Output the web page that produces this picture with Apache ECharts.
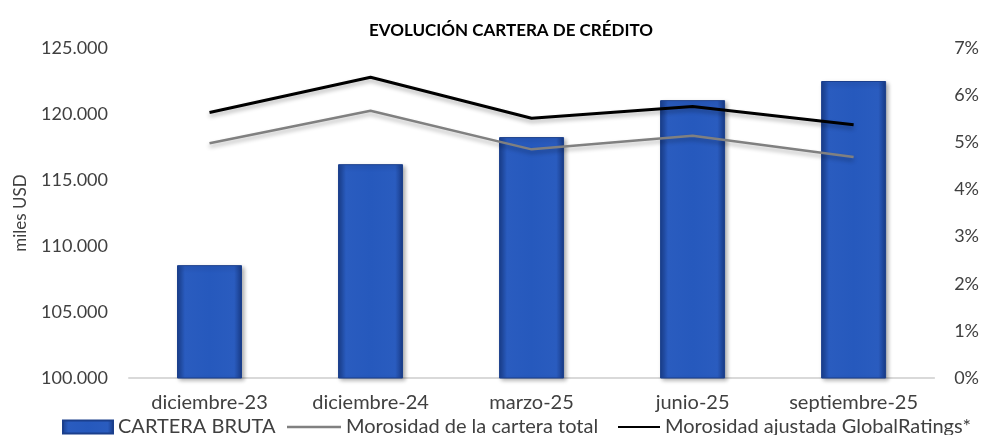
<!DOCTYPE html>
<html><head><meta charset="utf-8">
<script src="https://cdn.jsdelivr.net/npm/echarts@6/dist/echarts.min.js"></script>
<style>html,body{margin:0;padding:0;background:#fff}#c{width:982px;height:435px}</style>
</head><body><div id="c"></div>
<script>
const categories = ['diciembre-23','diciembre-24','marzo-25','junio-25','septiembre-25'];
const carteraBruta = [108550, 116200, 118250, 121050, 122500];
const morosidadTotal = [4.98, 5.67, 4.85, 5.14, 4.69];
const morosidadAjustada = [5.63, 6.38, 5.51, 5.76, 5.37];
const seriesNames = ['CARTERA BRUTA','Morosidad de la cartera total','Morosidad ajustada GlobalRatings*'];

const FONT = 'Lato';
const chart = echarts.init(document.getElementById('c'), null, {renderer:'canvas'});
const barColor = new echarts.graphic.LinearGradient(0,0,1,0,[
  {offset:0,color:'#1a3f8f'},{offset:0.12,color:'#2a5cbf'},{offset:0.5,color:'#2659bd'},{offset:0.88,color:'#2a5cbf'},{offset:1,color:'#183a85'}]);
const lineIcon = 'path://M0,0 L100,0 L100,4.5 L0,4.5 Z';
const legendText = {fontFamily:FONT,fontSize:20,color:'#404040'};
chart.setOption({
  animation:false,
  title:{text:'EVOLUCIÓN CARTERA DE CRÉDITO',left:364,top:17,
    textStyle:{fontFamily:FONT,fontSize:17,fontWeight:'bold',color:'#000'}},
  grid:{left:129,right:47,top:48,bottom:57},
  legend:[
    {top:412,left:57,itemWidth:50,itemHeight:13,textStyle:legendText,
     data:[{name:seriesNames[0],icon:'rect'}]},
    {top:412,left:282,itemWidth:54,itemHeight:13,textStyle:legendText,
     data:[{name:seriesNames[1],icon:lineIcon}]},
    {top:412,left:613,itemWidth:42,itemHeight:13,textStyle:legendText,
     data:[{name:seriesNames[2],icon:lineIcon}]}
  ],
  xAxis:{type:'category',data:categories,
    axisLine:{lineStyle:{color:'#d9d9d9',width:2}},axisTick:{show:false},
    axisLabel:{interval:0,fontFamily:FONT,fontSize:20,color:'#404040',margin:15}},
  yAxis:[
    {type:'value',min:100000,max:125000,interval:5000,name:'miles USD',nameLocation:'middle',nameGap:100,
     nameTextStyle:{fontFamily:FONT,fontSize:17,color:'#404040'},
     splitLine:{show:false},axisLine:{show:false},axisTick:{show:false},
     axisLabel:{fontFamily:FONT,fontSize:18,color:'#404040',margin:21,
       formatter:v=>(v/1000).toFixed(3)}},
    {type:'value',min:0,max:7,interval:1,position:'right',
     splitLine:{show:false},axisLine:{show:false},axisTick:{show:false},
     axisLabel:{fontFamily:FONT,fontSize:18,color:'#404040',margin:20,formatter:v=>v+'%'}}
  ],
  series:[
    {name:seriesNames[0],type:'bar',data:carteraBruta,barWidth:65,
     itemStyle:{color:barColor,borderColor:'#1b3f8c',borderWidth:1,
       shadowColor:'rgba(0,0,0,0.3)',shadowBlur:4,shadowOffsetX:2,shadowOffsetY:2}},
    {name:seriesNames[1],type:'line',yAxisIndex:1,data:morosidadTotal,symbol:'none',
     itemStyle:{color:'#808080'},
     lineStyle:{color:'#808080',width:2.5,shadowColor:'rgba(0,0,0,0.3)',shadowBlur:4,shadowOffsetY:3}},
    {name:seriesNames[2],type:'line',yAxisIndex:1,data:morosidadAjustada,symbol:'none',
     itemStyle:{color:'#000'},
     lineStyle:{color:'#000',width:3,shadowColor:'rgba(0,0,0,0.3)',shadowBlur:4,shadowOffsetY:3}}
  ]
});
</script></body></html>
